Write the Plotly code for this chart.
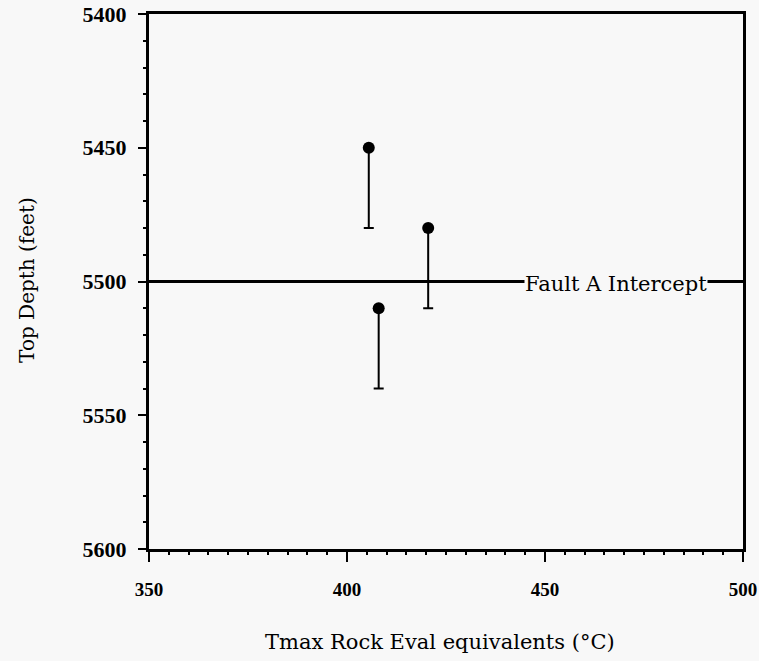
import plotly.graph_objects as go

# Tmax (Rock-Eval equivalent, deg C) vs. top depth (ft)
tmax = [405.5, 420.5, 408]
top_depth = [5450, 5480, 5510]
depth_span = [30, 30, 30]

fault_depth = 5500
fault_label = "Fault A Intercept"

x_ticks = [350, 400, 450, 500]
y_ticks = [5400, 5450, 5500, 5550, 5600]

bg = "#f8f8f8"
y_tick_font = dict(family="Liberation Serif", size=22, color="black", weight="bold")
x_tick_font = dict(family="Liberation Serif", size=19, color="black", weight="bold")
text_font = dict(family="DejaVu Serif", size=21, color="black")

fig = go.Figure()

fig.add_trace(go.Scatter(
    x=tmax, y=top_depth, mode="markers",
    marker=dict(color="black", size=12),
    error_y=dict(type="data", symmetric=False, array=depth_span,
                 arrayminus=[0] * len(depth_span),
                 color="black", thickness=2, width=5),
    showlegend=False,
))

# fault intercept line
fig.add_shape(type="line", xref="x", yref="y",
              x0=x_ticks[0], x1=x_ticks[-1], y0=fault_depth, y1=fault_depth,
              line=dict(color="black", width=3))
fig.add_annotation(x=467.9, y=fault_depth, xref="x", yref="y",
                   text=fault_label, showarrow=False, font=text_font,
                   bgcolor=bg, borderpad=0, yshift=-2)

fig.add_annotation(x=0.49, y=-0.174, xref="paper", yref="paper",
                   text="Tmax Rock Eval equivalents (°C)", showarrow=False,
                   font=dict(family="DejaVu Serif", size=21, color="black"),
                   xanchor="center", yanchor="middle")
fig.add_annotation(x=-0.2054, y=0.503, xref="paper", yref="paper",
                   text="Top Depth (feet)", showarrow=False, textangle=-90,
                   font=dict(family="DejaVu Serif", size=20, color="black"),
                   xanchor="center", yanchor="middle")

fig.update_xaxes(
    range=[x_ticks[0], x_ticks[-1]], tickvals=x_ticks,
    ticktext=[str(v) for v in x_ticks],
    showline=True, linecolor="black", linewidth=3, mirror=True,
    ticks="outside", ticklen=10, tickwidth=2, tickcolor="black",
    minor=dict(dtick=5, ticks="outside", ticklen=3, tickwidth=2, tickcolor="black"),
    tickfont=x_tick_font, ticklabelstandoff=11, automargin=False,
    ticklabeloverflow="allow",
    showgrid=False, zeroline=False,
)
fig.update_yaxes(
    range=[y_ticks[-1], y_ticks[0]], tickvals=y_ticks,
    ticktext=[str(v) for v in y_ticks],
    showline=True, linecolor="black", linewidth=3, mirror=True,
    ticks="outside", ticklen=8, tickwidth=2, tickcolor="black",
    minor=dict(dtick=10, ticks="outside", ticklen=3, tickwidth=2, tickcolor="black"),
    tickfont=y_tick_font, ticklabelstandoff=7, automargin=False,
    ticklabeloverflow="allow",
    showgrid=False, zeroline=False,
)

fig.update_layout(
    width=759, height=661,
    margin=dict(l=149, r=16, t=14, b=112),
    paper_bgcolor=bg, plot_bgcolor=bg,
)

fig.write_html("out.html")
